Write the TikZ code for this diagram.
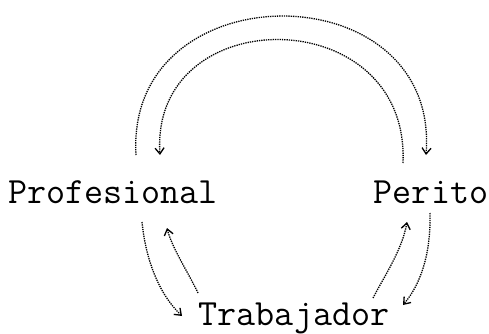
\documentclass[tikz,border=0pt]{standalone}
\usepackage{tikz}
\usetikzlibrary{arrows.meta, positioning}

\begin{document}
\begin{tikzpicture}[
    x=1pt, y=-1pt,
    word/.style={inner sep=0pt, anchor=base, font=\fontsize{37}{37}\selectfont\ttfamily},
    flow/.style={densely dotted, line width=1.3pt, -{Straight Barb[length=6pt, width=9pt]}}
  ]
    \useasboundingbox (0,0) rectangle (489,334);

    \node[word] (prof) at (113,203) {Profesional};
    \node[word] (perito) at (431,203) {Perito};
    \node[word] (trab) at (294,325) {Trabajador};

    \draw[flow] ([shift={(23,-48)}]prof.base) .. controls (125,-30) and (440,-30) .. ([shift={(-5,-48)}]perito.base);
    \draw[flow] ([shift={(-28,-40)}]perito.base) .. controls (410,0) and (150,0) .. ([shift={(47,-48)}]prof.base);
    \draw[flow] ([shift={(29,19)}]prof.base) .. controls (146,262) and (160,295) .. ([shift={(-112,-9)}]trab.base);
    \draw[flow] ([shift={(-96,-32)}]trab.base) .. controls (188,272) and (172,248) .. ([shift={(54,25)}]prof.base);
    \draw[flow] ([shift={(79,-27)}]trab.base) .. controls (385,275) and (402,250) .. ([shift={(-24,19)}]perito.base);
    \draw[flow] ([shift={(-1,10)}]perito.base) .. controls (431,255) and (420,285) .. ([shift={(109,-20)}]trab.base);
  \end{tikzpicture}
\end{document}
